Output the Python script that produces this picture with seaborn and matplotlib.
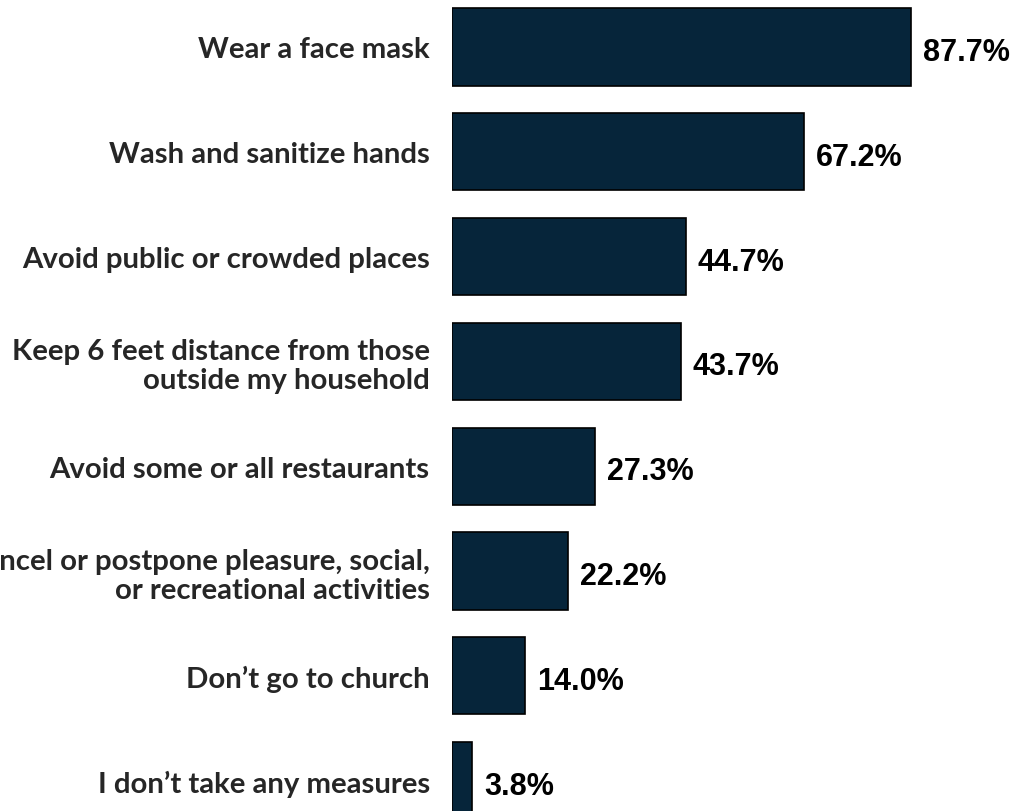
import matplotlib
matplotlib.use('Agg')
import matplotlib.pyplot as plt
import seaborn as sns
import pandas as pd

# chart data
measures = [
    'Wear a face mask',
    'Wash and sanitize hands',
    'Avoid public or crowded places',
    'Keep 6 feet distance from those\noutside my household',
    'Avoid some or all restaurants',
    'Cancel or postpone pleasure, social,\nor recreational activities',
    'Don\u2019t go to church',
    'I don\u2019t take any measures',
]
percents = [87.7, 67.2, 44.7, 43.7, 27.3, 22.2, 14.0, 3.8]

df = pd.DataFrame({'Measure': measures, 'Percent': percents})

sns.set_style('white')

fig = plt.figure(figsize=(10.17, 8.12), dpi=100)
ax = fig.add_axes([452 / 1017, 0, 1 - 452 / 1017, 1])

sns.barplot(data=df, y='Measure', x='Percent', orient='h', color='#06253a',
            edgecolor='black', linewidth=1.2, width=0.735, saturation=1, ax=ax)

ax.set_xlim(0, 108)
ax.set_ylim(7.29, -0.458)
ax.set_xlabel('')
ax.set_ylabel('')
ax.set_xticks([])
sns.despine(ax=ax, left=True, bottom=True)
ax.tick_params(axis='y', length=0, pad=16)
for lab in ax.get_yticklabels():
    lab.set_fontfamily('Lato')
    lab.set_fontweight('bold')
    lab.set_fontsize(21.2)
    lab.set_linespacing(1.15)

# value labels
for i, p in enumerate(percents):
    ax.annotate(f'{p:.1f}%', xy=(p, i), xytext=(12, -5), textcoords='offset pixels',
                ha='left', va='center', fontsize=22, fontweight='bold',
                family='Liberation Sans', color='black')

fig.savefig('out.png', dpi=100)
